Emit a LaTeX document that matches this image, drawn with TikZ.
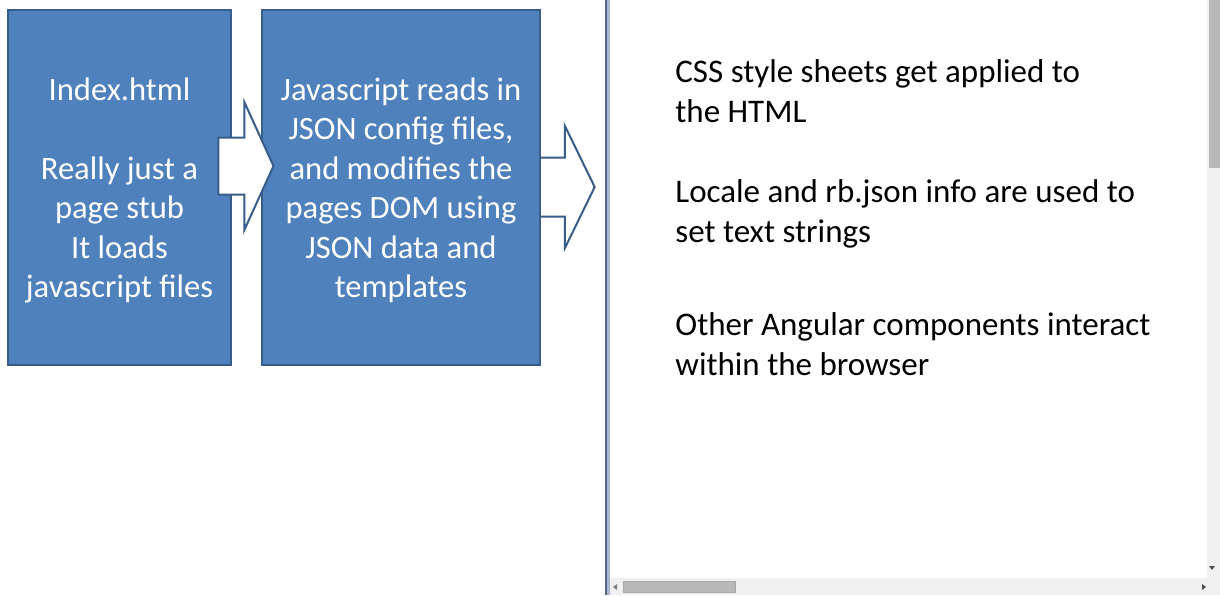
\documentclass[tikz,border=0pt]{standalone}
\usepackage{fontspec}
\setmainfont{Carlito}
\usepackage{tikz}
\usetikzlibrary{shapes, positioning}
\definecolor{boxblue}{RGB}{79,129,189}
\definecolor{boxedge}{RGB}{56,93,138}
\definecolor{paneline}{RGB}{84,104,142}
\definecolor{panelight}{RGB}{172,182,204}
\definecolor{bartrack}{RGB}{240,240,240}
\definecolor{barthumb}{RGB}{185,185,185}
\tikzstyle{stage} = [rectangle, draw=boxedge, fill=boxblue, line width=1pt, text=white, align=center,
                    font=\fontsize{16.3}{19.75}\selectfont, minimum height=177.5pt, text depth=0pt]
\tikzstyle{flow} = [single arrow, draw=boxedge, fill=white, line width=1pt, inner xsep=0pt]
\tikzstyle{note} = [anchor=base west, align=left, inner sep=0pt, font=\fontsize{16.5}{20}\selectfont]

\begin{document}
\begin{tikzpicture}[x=0.5pt, y=-0.5pt]
	\useasboundingbox (0, 0) rectangle (1220, 595);
	\fill[white] (0, 0) rectangle (1220, 595);

	\fill[paneline] (604.5, 0) rectangle (606.5, 595);
	\fill[panelight] (606.5, 0) rectangle (610, 595);
	\fill[bartrack] (1207, 0) rectangle (1220, 578);
	\fill[barthumb] (1209, 0) rectangle (1220, 168);
	\fill[bartrack] (610, 578) rectangle (1220, 595);
	\filldraw[fill=barthumb, draw=gray!70] (623, 581) rectangle (735, 592);
	\fill[gray] (617, 584) -- (617, 590) -- (613, 587) -- cycle;
	\fill[black!70] (1202, 584) -- (1202, 590) -- (1206, 587) -- cycle;
	\fill[black!70] (1209, 566) -- (1215, 566) -- (1212, 570) -- cycle;

	\node (ArrowOut) [flow, minimum height=32.5pt, inner ysep=14.25pt, single arrow head extend=15.75pt,
		single arrow tip angle=128] at (555, 187) {};

	\node (Index) [stage, minimum width=111.5pt] at (119.5, 187.5)
		{Index.html\\\mbox{}\\Really just a\\page stub\\It loads\\javascript files};
	\node (Script) [stage, minimum width=139pt] at (401, 187.5)
		{Javascript reads in\\JSON config files,\\and modifies the\\pages DOM using\\JSON data and\\templates};

	\node (ArrowIn) [flow, minimum height=27.5pt, inner ysep=13.75pt, single arrow head extend=17.75pt,
		single arrow tip angle=131] at (239.5, 166) {};

	\node (Css) [note] at (675, 122) {CSS style sheets get applied to\\the HTML};
	\node (Locale) [note] at (675, 242) {Locale and rb.json info are used to\\set text strings};
	\node (Angular) [note] at (675, 375) {Other Angular components interact\\within the browser};
\end{tikzpicture}
\end{document}
